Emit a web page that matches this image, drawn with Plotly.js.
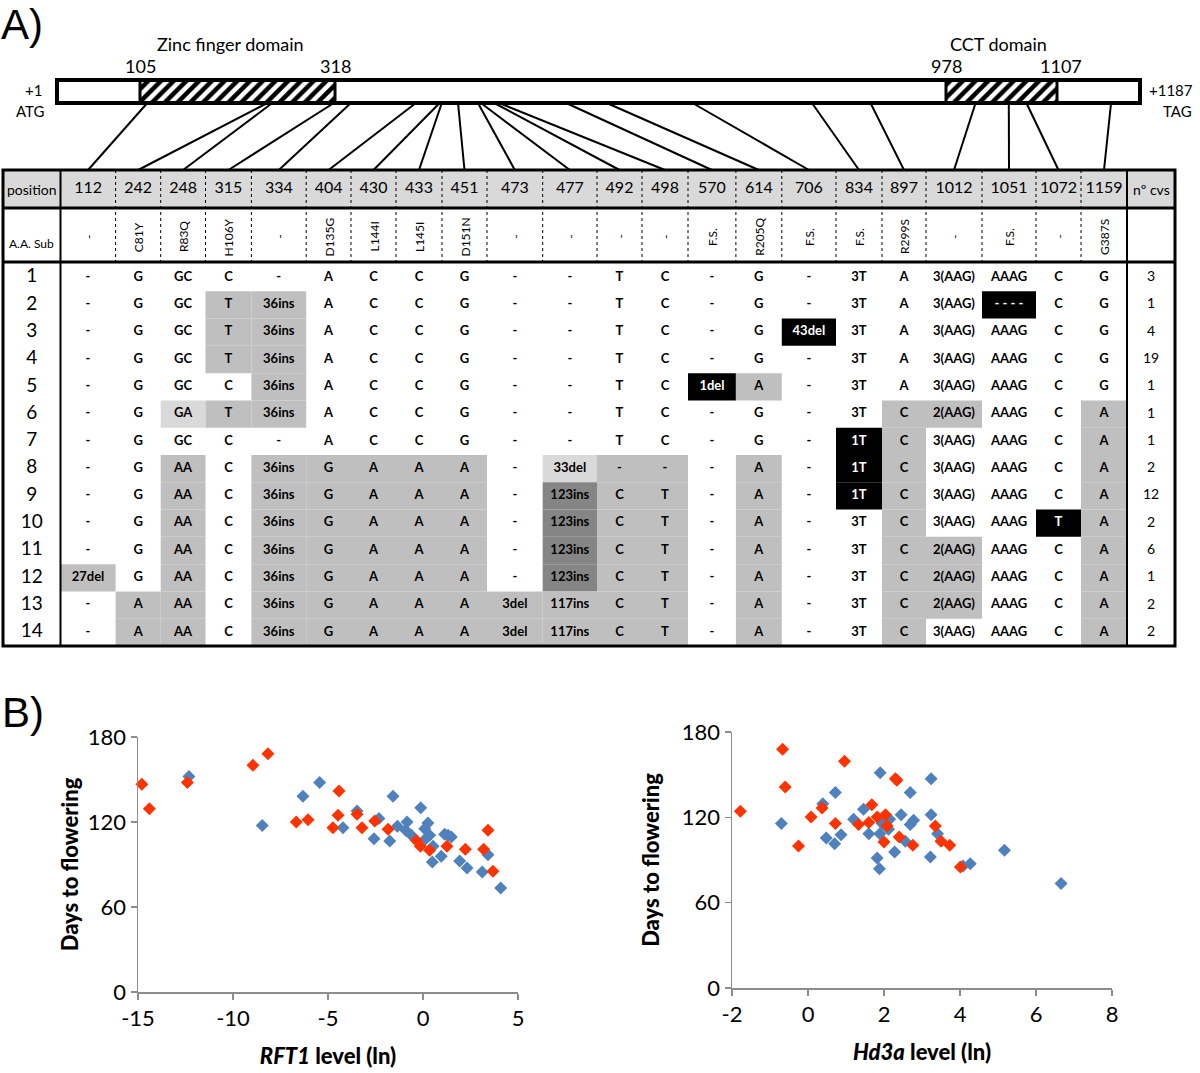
<!DOCTYPE html>
<html><head><meta charset="utf-8">
<script src="https://cdn.plot.ly/plotly-3.0.1.min.js"></script>
<style>html,body{margin:0;padding:0;background:#fff}</style>
</head><body><div id="chart" style="width:1200px;height:1073px"></div>
<script>
// ---------------- DATA ----------------
const geneLength = 1187;
const zincFinger = [105, 318];
const cctDomain = [978, 1107];
const positions = [112,242,248,315,334,404,430,433,451,473,477,492,498,570,614,706,834,897,1012,1051,1072,1159];
const aaSub = ['-','C81Y','R83Q','H106Y','-','D135G','L144I','L145I','D151N','-','-','-','-','F.S.','R205Q','F.S.','F.S.','R299S','-','F.S.','-','G387S'];
const hap1  = ['-','G','GC','C','-','A','C','C','G','-','-','T','C','-','G','-','3T','A','3(AAG)','AAAG','C','G'];
const hap2  = ['-','G','GC','T','36ins','A','C','C','G','-','-','T','C','-','G','-','3T','A','3(AAG)','- - - -','C','G'];
const hap3  = ['-','G','GC','T','36ins','A','C','C','G','-','-','T','C','-','G','43del','3T','A','3(AAG)','AAAG','C','G'];
const hap4  = ['-','G','GC','T','36ins','A','C','C','G','-','-','T','C','-','G','-','3T','A','3(AAG)','AAAG','C','G'];
const hap5  = ['-','G','GC','C','36ins','A','C','C','G','-','-','T','C','1del','A','-','3T','A','3(AAG)','AAAG','C','G'];
const hap6  = ['-','G','GA','T','36ins','A','C','C','G','-','-','T','C','-','G','-','3T','C','2(AAG)','AAAG','C','A'];
const hap7  = ['-','G','GC','C','-','A','C','C','G','-','-','T','C','-','G','-','1T','C','3(AAG)','AAAG','C','A'];
const hap8  = ['-','G','AA','C','36ins','G','A','A','A','-','33del','-','-','-','A','-','1T','C','3(AAG)','AAAG','C','A'];
const hap9  = ['-','G','AA','C','36ins','G','A','A','A','-','123ins','C','T','-','A','-','1T','C','3(AAG)','AAAG','C','A'];
const hap10 = ['-','G','AA','C','36ins','G','A','A','A','-','123ins','C','T','-','A','-','3T','C','3(AAG)','AAAG','T','A'];
const hap11 = ['-','G','AA','C','36ins','G','A','A','A','-','123ins','C','T','-','A','-','3T','C','2(AAG)','AAAG','C','A'];
const hap12 = ['27del','G','AA','C','36ins','G','A','A','A','-','123ins','C','T','-','A','-','3T','C','2(AAG)','AAAG','C','A'];
const hap13 = ['-','A','AA','C','36ins','G','A','A','A','3del','117ins','C','T','-','A','-','3T','C','2(AAG)','AAAG','C','A'];
const hap14 = ['-','A','AA','C','36ins','G','A','A','A','3del','117ins','C','T','-','A','-','3T','C','3(AAG)','AAAG','C','A'];
const haplotypes = [hap1,hap2,hap3,hap4,hap5,hap6,hap7,hap8,hap9,hap10,hap11,hap12,hap13,hap14];
// allele class per cell: 0 reference, 1 variant, 2 minor variant, 3 large insertion, 4 loss-of-function
const alleleClass = [
 '0000000000000000000000',
 '0001100000000000000400',
 '0001100000000004000000',
 '0001100000000000000000',
 '0000100000000410000000',
 '0021100000000000011001',
 '0000000000000000410001',
 '0010111110211010410001',
 '0010111110311010410001',
 '0010111110311010010041',
 '0010111110311010011001',
 '1010111110311010011001',
 '0110111111111010011001',
 '0110111111111010010001'];
const cultivarCounts = [3,1,4,19,1,1,1,2,12,2,6,1,2,2];

const rft1BlueX = [-12.32,-8.46,-6.32,-5.44,-4.21,-3.47,-2.32,-2.58,-1.75,-1.58,-1.35,-0.84,-0.91,-0.61,-0.12,0.09,0.26,0.35,0.14,0.53,0.49,0.96,1.14,1.49,1.93,2.32,3.12,3.42,4.09,1.32];
const rft1BlueY = [152.2,117.6,138.1,147.8,116,127.8,122.4,108.2,106.6,138.1,117,120,114.1,110.6,130.1,115.3,119.3,110.6,108.2,102.8,91.8,95.8,111.3,109.4,92.5,87.5,84.7,96.9,73.4,110.6];
const rft1RedX = [-14.8,-14.4,-12.4,-8.95,-8.16,-6.67,-6.05,-4.74,-4.42,-4.47,-3.47,-3.21,-2.54,-1.84,-0.35,-0.14,0.35,1.26,2.23,3.19,3.42,3.68];
const rft1RedY = [146.6,129.4,147.8,160,168.2,120,121.6,116,141.9,124.7,125.4,116,120.7,114.8,107,102.8,100,102.8,100.7,100.7,114.1,85.2];
const hd3aBlueX = [-0.70,0.39,0.48,0.72,0.70,0.87,1.20,1.46,1.60,1.82,1.88,1.89,1.90,1.95,2.15,2.12,2.28,2.45,2.56,2.69,2.69,2.78,3.24,3.24,3.22,3.41,4.08,4.27,5.17,6.66];
const hd3aBlueY = [115.6,129.6,105.5,137.4,101.5,107.8,118.6,125.6,108.5,91.4,83.9,108.5,151.4,115.6,118.6,111.6,95.6,121.9,103.1,137.4,114.9,117.9,147.2,121.9,92.1,108.5,85.8,87.4,96.8,73.4];
const hd3aRedX = [-1.78,-0.67,-0.60,-0.25,0.08,0.37,0.72,0.96,1.33,1.60,1.68,1.82,2.0,2.04,2.08,2.30,2.34,2.40,2.76,3.35,3.50,3.73,4.01];
const hd3aRedY = [124.2,167.8,141.3,99.9,120.2,126.6,115.6,159.4,114.9,116.3,128.9,120.2,102.7,121.9,113.9,147.2,146,106.2,100.3,113.9,103.1,100.3,85.1];
const rft1Ticks = [-15,-10,-5,0,5];
const hd3aTicks = [-2,0,2,4,6,8];
const dayTicks = [0,60,120,180];

// ---------------- LAYOUT GEOMETRY (overlay axis in pixel units) ----------------
const FONT = 'Lato, "Open Sans", sans-serif';
const geneAnchorBp = [1, zincFinger[0], zincFinger[1], cctDomain[0], cctDomain[1], geneLength];
const geneAnchorPx = [57, 140, 335, 946, 1057, 1140];
function geneX(bp){
  for (let i=0;i<geneAnchorBp.length-1;i++){
    if (bp <= geneAnchorBp[i+1]){
      const t=(bp-geneAnchorBp[i])/(geneAnchorBp[i+1]-geneAnchorBp[i]);
      return geneAnchorPx[i]+t*(geneAnchorPx[i+1]-geneAnchorPx[i]);
    }
  }
  return geneAnchorPx[geneAnchorPx.length-1];
}
const barTop=80, barBot=103;
const tLeft=3, tRight=1175, tTop=170, hdrBot=208, aaBot=262, tBot=646;
const firstColR=60.5, lastColL=1127;
const colEdges=[60.5,115.6,160.7,205.5,251.4,306.2,351,396,442,487,542.7,597,642,688,735.9,781.8,836,882,926,982,1036,1081,1127];
const colC = colEdges.slice(0,-1).map((e,i)=>(e+colEdges[i+1])/2);
const dataTop=264, rowH=(tBot-dataTop)/14;
const fillColors = {1:'#bfbfbf', 2:'#d9d9d9', 3:'#858585', 4:'#000000'};

const shapes=[]; const annotations=[];
const X3='x3', Y3='y3';
shapes.push({type:'rect',xref:X3,yref:Y3,x0:geneX(1),x1:geneX(geneLength),y0:barTop,y1:barBot,line:{color:'black',width:4},fillcolor:'rgba(0,0,0,0)',layer:'above'});
positions.forEach((p,i)=>{
  shapes.push({type:'line',xref:X3,yref:Y3,x0:geneX(p),y0:barBot+1,x1:colC[i],y1:tTop,line:{color:'black',width:2}});
});
shapes.push({type:'rect',xref:X3,yref:Y3,x0:tLeft,x1:tRight,y0:tTop,y1:hdrBot,fillcolor:'#d9d9d9',line:{width:0},layer:'below'});
alleleClass.forEach((row,r)=>{
  for (let c=0;c<row.length;c++){
    const k=+row[c];
    if(k>0){
      shapes.push({type:'rect',xref:X3,yref:Y3,x0:colEdges[c],x1:colEdges[c+1],y0:dataTop+r*rowH,y1:Math.min(dataTop+(r+1)*rowH,tBot),fillcolor:fillColors[k],line:{width:0},layer:'below'});
    }
  }
});
for(let i=1;i<colEdges.length-1;i++){
  shapes.push({type:'line',xref:X3,yref:Y3,x0:colEdges[i],x1:colEdges[i],y0:tTop,y1:aaBot,line:{color:'black',width:1,dash:'dot'}});
}
[hdrBot,aaBot].forEach(y=>shapes.push({type:'line',xref:X3,yref:Y3,x0:tLeft,x1:tRight,y0:y,y1:y,line:{color:'black',width:3}}));
[firstColR,lastColL].forEach(x=>shapes.push({type:'line',xref:X3,yref:Y3,x0:x,x1:x,y0:tTop,y1:tBot,line:{color:'black',width:2}}));
shapes.push({type:'rect',xref:X3,yref:Y3,x0:tLeft,x1:tRight,y0:tTop,y1:tBot,line:{color:'black',width:3},fillcolor:'rgba(0,0,0,0)'});

function ann(text,x,y,size,opts){
  annotations.push(Object.assign({text:text,xref:X3,yref:Y3,x:x,y:y,showarrow:false,font:{family:FONT,size:size,color:'black'},xanchor:'center',yanchor:'middle'},opts||{}));
}
ann('Zinc finger domain', 230, 44, 18);
ann(String(zincFinger[0]), geneX(zincFinger[0]), 66, 18);
ann(String(zincFinger[1]), geneX(zincFinger[1]), 66, 18);
ann('CCT domain', 998, 44, 18);
ann(String(cctDomain[0]), geneX(cctDomain[0]), 66, 18);
ann(String(cctDomain[1]), geneX(cctDomain[1])+4, 66, 18);
ann('+1', 33, 90, 15);
ann('ATG', 30, 111, 15);
ann('+'+geneLength, 1171, 90, 15);
ann('TAG', 1177, 111, 15);
ann('A)', 0, 0, 42, {xanchor:'left', yanchor:'top', borderpad:0, font:{family:'Liberation Sans, Arial, sans-serif',size:42,color:'black'}});
ann('B)', 0, 712, 42, {xanchor:'left', font:{family:'Liberation Sans, Arial, sans-serif',size:42,color:'black'}});
ann('position', (tLeft+firstColR)/2, 189, 14);
ann('nº cvs', (lastColL+tRight)/2, 189, 14);
ann('A.A. Sub', (tLeft+firstColR)/2, 243, 12);
aaSub.forEach((s,i)=>ann(s, colC[i], 237, 12, {textangle:-90}));

const hx=[],hy=[],ht=[];
positions.forEach((p,i)=>{hx.push(colC[i]);hy.push(189);ht.push(String(p));});
const cx=[],cy=[],ct=[],cc=[];
haplotypes.forEach((row,r)=>{
  row.forEach((v,c)=>{
    cx.push(colC[c]); cy.push(dataTop+(r+0.5)*rowH); ct.push('<b>'+v+'</b>');
    cc.push(alleleClass[r][c]==='4' ? 'white' : 'black');
  });
});
const rx=[],ry=[],rt=[],nx=[],ny=[],nt=[];
cultivarCounts.forEach((n,r)=>{
  rx.push((tLeft+firstColR)/2); ry.push(dataTop+(r+0.5)*rowH); rt.push(String(r+1));
  nx.push((lastColL+tRight)/2); ny.push(dataTop+(r+0.5)*rowH); nt.push(String(n));
});

const traces=[
  {type:'bar',orientation:'h',xaxis:X3,yaxis:Y3,y:[(barTop+barBot)/2,(barTop+barBot)/2],
   base:[geneX(zincFinger[0]),geneX(cctDomain[0])],
   x:[geneX(zincFinger[1])-geneX(zincFinger[0]), geneX(cctDomain[1])-geneX(cctDomain[0])],
   width:barBot-barTop, hoverinfo:'skip', showlegend:false,
   marker:{color:'white',line:{color:'black',width:3},pattern:{shape:'/',fgcolor:'black',bgcolor:'white',size:9,solidity:0.5}}},
  {type:'scatter',mode:'text',xaxis:X3,yaxis:Y3,x:hx,y:hy,text:ht,textfont:{family:FONT,size:16,color:'black'},hoverinfo:'skip',showlegend:false,cliponaxis:false},
  {type:'scatter',mode:'text',xaxis:X3,yaxis:Y3,x:cx,y:cy,text:ct,textfont:{family:FONT,size:13,color:cc},hoverinfo:'skip',showlegend:false,cliponaxis:false},
  {type:'scatter',mode:'text',xaxis:X3,yaxis:Y3,x:rx,y:ry,text:rt,textfont:{family:FONT,size:19,color:'black'},hoverinfo:'skip',showlegend:false,cliponaxis:false},
  {type:'scatter',mode:'text',xaxis:X3,yaxis:Y3,x:nx,y:ny,text:nt,textfont:{family:FONT,size:14,color:'black'},hoverinfo:'skip',showlegend:false,cliponaxis:false},
];
const BLUE='#4f81bd', RED='#ff3300';
function pts(x,y,color,xa,ya){
  return {type:'scatter',mode:'markers',x:x,y:y,xaxis:xa,yaxis:ya,cliponaxis:false,showlegend:false,
    marker:{symbol:'diamond',size:10,color:color,line:{width:0}}};
}
traces.push(pts(rft1BlueX,rft1BlueY,BLUE,'x','y'));
traces.push(pts(rft1RedX,rft1RedY,RED,'x','y'));
traces.push(pts(hd3aBlueX,hd3aBlueY,BLUE,'x2','y2'));
traces.push(pts(hd3aRedX,hd3aRedY,RED,'x2','y2'));

const H=1073, W=1200;
function axisBase(){
  return {showline:true,linecolor:'#8c8c8c',linewidth:1.5,ticks:'outside',ticklen:6,tickwidth:1.5,tickcolor:'#8c8c8c',
    showgrid:false,zeroline:false,tickfont:{family:FONT,size:22,color:'black'},fixedrange:true,automargin:false};
}
const titleFont = {family:FONT,size:22,color:'black',weight:900};
const layout={
  width:W,height:H,margin:{l:0,r:0,t:0,b:0},paper_bgcolor:'white',plot_bgcolor:'rgba(0,0,0,0)',showlegend:false,
  xaxis3:{domain:[0,1],range:[0,W],visible:false,anchor:'y3',fixedrange:true},
  yaxis3:{domain:[0,1],range:[H,0],visible:false,anchor:'x3',fixedrange:true},
  xaxis:Object.assign(axisBase(),{domain:[138/W,518/W],range:[-15,5],tickvals:rft1Ticks,ticktext:rft1Ticks.map(String),anchor:'y',
    title:{text:'<i>RFT1</i> level (ln)',font:titleFont,standoff:18}}),
  yaxis:Object.assign(axisBase(),{domain:[1-992/H,1-737/H],range:[0,180],tickvals:dayTicks,anchor:'x',
    title:{text:'Days to flowering',font:titleFont,standoff:3}}),
  xaxis2:Object.assign(axisBase(),{domain:[732/W,1112/W],range:[-2,8],tickvals:hd3aTicks,ticktext:hd3aTicks.map(String),anchor:'y2',
    title:{text:'<i>Hd3a</i> level (ln)',font:titleFont,standoff:18}}),
  yaxis2:Object.assign(axisBase(),{domain:[1-988/H,1-732/H],range:[0,180],tickvals:dayTicks,anchor:'x2',
    title:{text:'Days to flowering',font:titleFont,standoff:16}}),
  shapes:shapes, annotations:annotations, barmode:'overlay'
};
Plotly.newPlot('chart',traces,layout,{displayModeBar:false,staticPlot:true});
</script></body></html>
